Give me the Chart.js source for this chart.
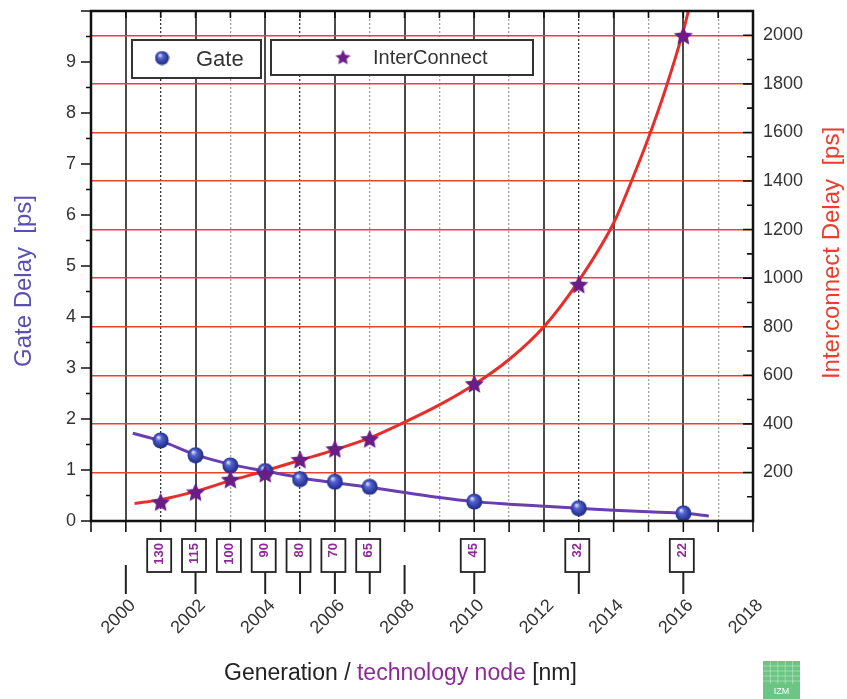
<!DOCTYPE html>
<html>
<head>
<meta charset="utf-8">
<script src="https://cdn.jsdelivr.net/npm/chart.js@4.4.0/dist/chart.umd.min.js"></script>
<style>
  html, body { margin: 0; padding: 0; background: #fff; }
  canvas { display: block; }
</style>
</head>
<body>
<canvas id="delayChart" width="847" height="699"></canvas>
<script>
// Technology generations: year, node size and measured delays
const nodeYears = [2001, 2002, 2003, 2004, 2005, 2006, 2007, 2010, 2013, 2016];
const nodeLabels = ['130', '115', '100', '90', '80', '70', '65', '45', '32', '22'];
const gateDelay = [1.58, 1.29, 1.09, 0.98, 0.82, 0.77, 0.67, 0.38, 0.25, 0.15];          // ps, left axis
const interconnectDelay = [79, 120, 172, 196, 254, 298, 339, 566, 975, 2000];          // ps, right axis

// Trend curves through the measurements
const gateTrendYears = [2000.2, 2001, 2002, 2003, 2004, 2005, 2006, 2007, 2008, 2009, 2010, 2011, 2012, 2013, 2014, 2015, 2016, 2016.73];
const gateTrend = [1.72, 1.57, 1.30, 1.11, 0.98, 0.85, 0.75, 0.66, 0.56, 0.46, 0.38, 0.33, 0.29, 0.25, 0.21, 0.18, 0.15, 0.10];
const interconnectTrendYears = [2000.25, 2001, 2002, 2003, 2004, 2005, 2006, 2007, 2008, 2009, 2010, 2011, 2012, 2013, 2014, 2014.5, 2015, 2015.5, 2016, 2016.2];
const interconnectTrend = [72, 88, 122, 166, 207, 250, 293, 342, 407, 478, 562, 665, 800, 989, 1227, 1395, 1578, 1783, 2019, 2130];

// Axis ticks
const yearLabels = [2000, 2002, 2004, 2006, 2008, 2010, 2012, 2014, 2016, 2018];
const connectorYears = [2000, 2002, 2004, 2005, 2006, 2007, 2008, 2010, 2013, 2016];
const darkMinorYears = [2001, 2005, 2013];

const FONT = "'Liberation Sans', Arial, Helvetica, sans-serif";

function makeSphere(d) {
  const c = document.createElement('canvas');
  c.width = d; c.height = d;
  const g = c.getContext('2d');
  const r = d / 2;
  const grad = g.createRadialGradient(r * 0.72, r * 0.62, r * 0.08, r, r, r);
  grad.addColorStop(0, '#d4d9ff');
  grad.addColorStop(0.28, '#5565cf');
  grad.addColorStop(0.75, '#2c3a9c');
  grad.addColorStop(1, '#1d2873');
  g.fillStyle = grad;
  g.beginPath();
  g.arc(r, r, r - 0.5, 0, Math.PI * 2);
  g.fill();
  return c;
}

function makeStar(d, color) {
  const c = document.createElement('canvas');
  c.width = d; c.height = d;
  const g = c.getContext('2d');
  const cx = d / 2, cy = d / 2 + d * 0.05;
  const R = d / 2 - 0.5, r = R * 0.48;
  g.beginPath();
  for (let i = 0; i < 10; i++) {
    const a = -Math.PI / 2 + i * Math.PI / 5;
    const rad = i % 2 ? r : R;
    g.lineTo(cx + rad * Math.cos(a), cy + rad * Math.sin(a));
  }
  g.closePath();
  g.fillStyle = color;
  g.fill();
  return c;
}

const sphere = makeSphere(17);
const star = makeStar(21, '#6b1d87');
const sphereSmall = makeSphere(15);
const starSmall = makeStar(17, '#6b1d87');

const toPoints = (xs, ys) => xs.map((x, i) => ({ x, y: ys[i] }));

// Keep the plot frame at fixed edges: no extra room for half label heights
const noPad = s => { s.paddingTop = 0; s.paddingBottom = 0; s.paddingLeft = 0; s.paddingRight = 0; };

// Frame, inward/outward tick marks and in-plot legend
const framePlugin = {
  id: 'frame',
  afterDatasetsDraw(chart) {
    const { ctx, chartArea: { left, right, top, bottom }, scales: { x, y, y2 } } = chart;
    ctx.save();
    ctx.strokeStyle = '#111';
    ctx.lineWidth = 1.6;
    ctx.beginPath();
    for (let v = 1999; v <= 2018; v++) {
      const px = x.getPixelForValue(v);
      ctx.moveTo(px, bottom); ctx.lineTo(px, bottom + 11);
      ctx.moveTo(px, top); ctx.lineTo(px, top + 7);
    }
    for (let v = 0; v <= 10; v += 0.5) {
      const py = y.getPixelForValue(v);
      const len = Number.isInteger(v) ? 10 : 5;
      ctx.moveTo(left - len, py); ctx.lineTo(left, py);
    }
    for (let v = 0; v <= 2100; v += 100) {
      const py = y2.getPixelForValue(v);
      const len = v % 200 === 0 ? 10 : 6;
      ctx.moveTo(right, py); ctx.lineTo(right - len, py);
    }
    ctx.stroke();
    ctx.lineWidth = 2.5;
    ctx.strokeRect(left, top, right - left, bottom - top);

    // legend
    ctx.fillStyle = '#fff';
    ctx.strokeStyle = '#333';
    ctx.lineWidth = 2;
    ctx.fillRect(132, 40, 129, 38);
    ctx.strokeRect(132, 40, 129, 38);
    ctx.fillRect(271, 40, 262, 35);
    ctx.strokeRect(271, 40, 262, 35);
    ctx.drawImage(sphereSmall, 162 - 7.5, 58 - 7.5);
    ctx.drawImage(starSmall, 343 - 8.5, 57 - 8.5);
    ctx.fillStyle = '#333';
    ctx.font = '22px ' + FONT;
    ctx.textBaseline = 'middle';
    ctx.textAlign = 'left';
    ctx.fillText('Gate', 196, 60);
    ctx.font = '20px ' + FONT;
    ctx.fillText('InterConnect', 373, 58);
    ctx.restore();
  },
  afterDraw(chart) {
    const { ctx, scales: { x } } = chart;
    ctx.save();
    // connectors below the node boxes
    ctx.strokeStyle = '#222';
    ctx.lineWidth = 2;
    ctx.beginPath();
    connectorYears.forEach(v => {
      const px = x.getPixelForValue(v);
      ctx.moveTo(px, 565); ctx.lineTo(px, 594);
    });
    ctx.stroke();
    // technology node boxes
    nodeYears.forEach((v, i) => {
      const px = x.getPixelForValue(v) - 1.5;
      ctx.fillStyle = '#fff';
      ctx.strokeStyle = '#222';
      ctx.lineWidth = 1.8;
      ctx.fillRect(px - 12, 539, 24, 33);
      ctx.strokeRect(px - 12, 539, 24, 33);
      ctx.save();
      ctx.translate(px + 0.5, 543);
      ctx.rotate(-Math.PI / 2);
      ctx.fillStyle = '#8e2a98';
      ctx.font = 'bold 13px ' + FONT;
      ctx.textAlign = 'right';
      ctx.textBaseline = 'middle';
      ctx.fillText(nodeLabels[i], 0, 0);
      ctx.restore();
    });
    // axis titles
    ctx.font = '24px ' + FONT;
    ctx.textAlign = 'center';
    ctx.textBaseline = 'middle';
    ctx.save();
    ctx.translate(24, 281);
    ctx.rotate(-Math.PI / 2);
    ctx.fillStyle = '#5a50b4';
    ctx.fillText('Gate Delay  [ps]', 0, 0);
    ctx.restore();
    ctx.save();
    ctx.translate(832, 253);
    ctx.rotate(-Math.PI / 2);
    ctx.fillStyle = '#e8402e';
    ctx.fillText('Interconnect Delay  [ps]', 0, 0);
    ctx.restore();
    // bottom title in two colours
    ctx.font = '23px ' + FONT;
    ctx.textAlign = 'left';
    const parts = [['Generation / ', '#222'], ['technology node', '#8e2a98'], [' [nm]', '#222']];
    let tx = 224;
    parts.forEach(([t, col]) => {
      ctx.fillStyle = col;
      ctx.fillText(t, tx, 674);
      tx += ctx.measureText(t).width;
    });
    // institute badge
    ctx.fillStyle = '#6cc583';
    ctx.fillRect(763, 661, 37, 38);
    ctx.strokeStyle = 'rgba(255,255,255,0.35)';
    ctx.lineWidth = 1;
    ctx.beginPath();
    for (let k = 1; k < 5; k++) {
      ctx.moveTo(763 + k * 7.4, 661); ctx.lineTo(763 + k * 7.4, 684);
      ctx.moveTo(763, 661 + k * 5); ctx.lineTo(800, 661 + k * 5);
    }
    ctx.stroke();
    ctx.fillStyle = '#fff';
    ctx.font = '9px ' + FONT;
    ctx.textAlign = 'center';
    ctx.fillText('IZM', 781.5, 692);
    ctx.restore();
  }
};

new Chart(document.getElementById('delayChart'), {
  type: 'scatter',
  data: {
    datasets: [
      {
        label: 'Gate trend', type: 'line', xAxisID: 'x', yAxisID: 'y',
        data: toPoints(gateTrendYears, gateTrend),
        borderColor: '#6a3db0', borderWidth: 3, pointRadius: 0,
        cubicInterpolationMode: 'monotone', order: 3
      },
      {
        label: 'InterConnect trend', type: 'line', xAxisID: 'x', yAxisID: 'y2',
        data: toPoints(interconnectTrendYears, interconnectTrend),
        borderColor: '#e62e2a', borderWidth: 3, pointRadius: 0,
        cubicInterpolationMode: 'monotone', order: 3
      },
      {
        label: 'Gate', xAxisID: 'x', yAxisID: 'y',
        data: toPoints(nodeYears, gateDelay),
        pointStyle: sphere, pointRadius: 9, order: 1
      },
      {
        label: 'InterConnect', xAxisID: 'x', yAxisID: 'y2',
        data: toPoints(nodeYears, interconnectDelay),
        pointStyle: star, pointRadius: 10, order: 0
      }
    ]
  },
  options: {
    responsive: false,
    animation: false,
    layout: { padding: { top: 8, left: 0, right: 0, bottom: 0 } },
    plugins: { legend: { display: false }, tooltip: { enabled: false } },
    scales: {
      x: {
        type: 'linear', position: 'bottom', min: 1999, max: 2018,
        ticks: {
          stepSize: 1, autoSkip: false, minRotation: 45, maxRotation: 45, padding: 74, labelOffset: 7,
          font: { family: FONT, size: 18 }, color: '#333',
          callback: v => yearLabels.includes(v) ? String(v) : ''
        },
        grid: {
          drawTicks: false,
          color: c => {
            const v = c.tick ? c.tick.value : 0;
            if (v % 2 === 0) return '#4a4a4a';
            return darkMinorYears.includes(v) ? '#333' : '#a0a0a0';
          },
          lineWidth: c => (c.tick && c.tick.value % 2 === 0) ? 2 : 1.3
        },
        border: {
          display: false,
          dash: c => (c.tick && c.tick.value % 2 !== 0) ? [2, 2] : []
        },
        afterFit: s => { s.height = 178; noPad(s); }
      },
      y: {
        position: 'left', min: 0, max: 10,
        ticks: {
          stepSize: 0.5, autoSkip: false, padding: 15,
          font: { family: FONT, size: 18 }, color: '#333',
          callback: v => (Number.isInteger(v) && v < 10) ? String(v) : ''
        },
        grid: { drawOnChartArea: false, drawTicks: false },
        border: { display: false },
        afterFit: s => { s.width = 91; noPad(s); }
      },
      y2: {
        position: 'right', min: 0, max: 2100,
        ticks: {
          stepSize: 100, autoSkip: false, padding: 10,
          font: { family: FONT, size: 18 }, color: '#333',
          callback: v => (v > 0 && v % 200 === 0) ? String(v) : ''
        },
        grid: {
          drawTicks: false,
          color: c => {
            const v = c.tick ? c.tick.value : 0;
            return (v > 0 && v % 200 === 0) ? '#e8432f' : 'rgba(0,0,0,0)';
          },
          lineWidth: 1.5
        },
        border: { display: false },
        afterFit: s => { s.width = 94; noPad(s); }
      }
    }
  },
  plugins: [framePlugin]
});
</script>
</body>
</html>
